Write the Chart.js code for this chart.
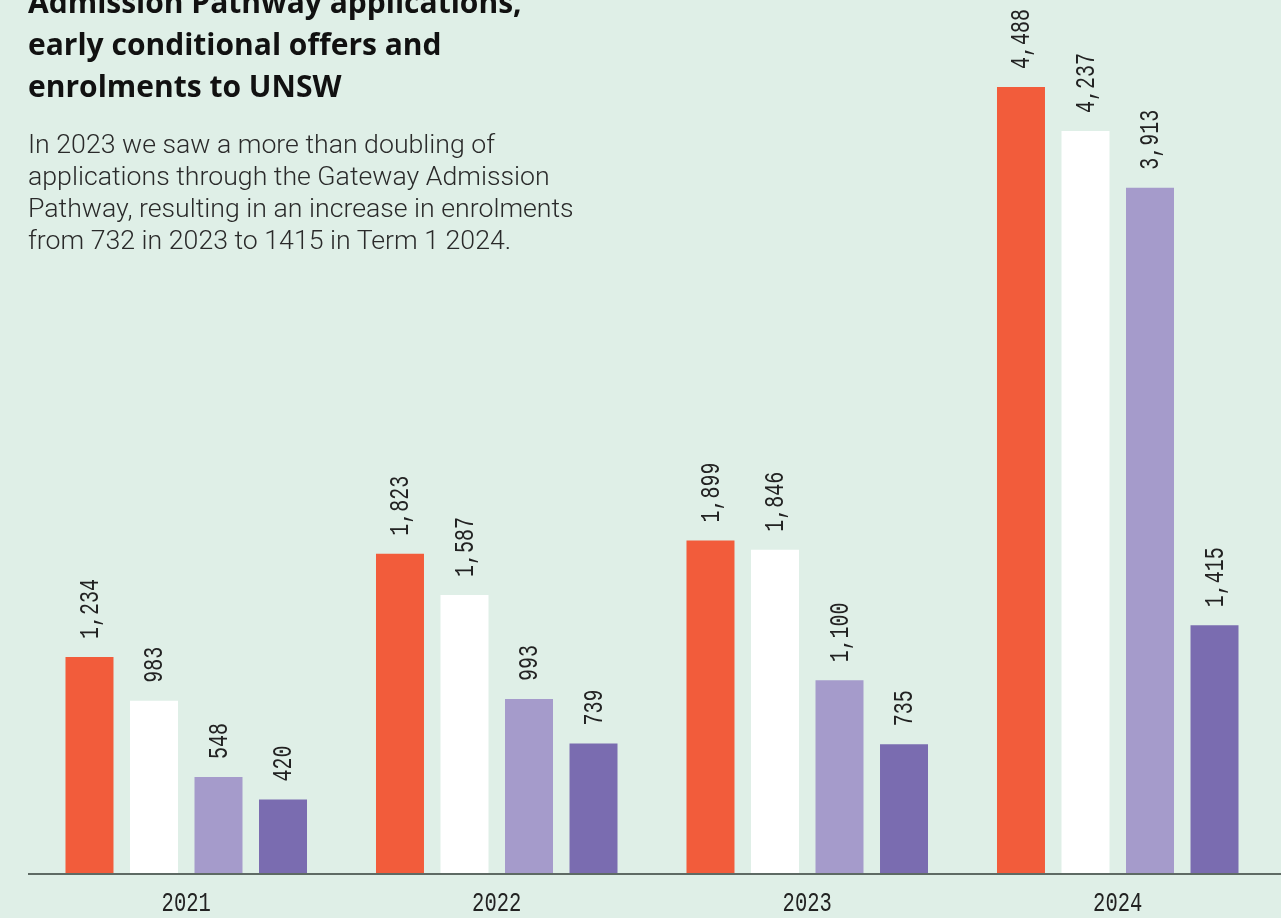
<!DOCTYPE html>
<html>
<head>
<meta charset="utf-8">
<script src="https://cdn.jsdelivr.net/npm/chart.js@4/dist/chart.umd.min.js"></script>
<style>
  html, body { margin: 0; padding: 0; background: #DFEFE7; width: 1281px; height: 918px; overflow: hidden; }
  #wrap { position: relative; width: 1281px; height: 918px; }
  #c { position: absolute; left: 0; top: 0; }
  #title { position: absolute; left: 28px; top: -19px; font-family: 'Open Sans', sans-serif; font-weight: 700; font-size: 30px; line-height: 42px; color: #111; margin: 0; }
  #sub { position: absolute; left: 28px; top: 128px; font-family: Roboto, sans-serif; font-weight: 300; font-size: 26.7px; line-height: 32px; color: #2a2a2a; margin: 0; }
</style>
</head>
<body>
<div id="wrap">
  <canvas id="c" width="1281" height="918"></canvas>
  <h1 id="title">Admission Pathway applications,<br>early conditional offers and<br>enrolments to UNSW</h1>
  <p id="sub">In 2023 we saw a more than doubling of<br>applications through the Gateway Admission<br>Pathway, resulting in an increase in enrolments<br>from 732 in 2023 to 1415 in Term 1 2024.</p>
</div>
<script>
const years = ["2021", "2022", "2023", "2024"];
const applications = [1234, 1823, 1899, 4488];
const earlyOffers = [983, 1587, 1846, 4237];
const acceptedOffers = [548, 993, 1100, 3913];
const enrolments = [420, 739, 735, 1415];

const seriesColors = ["#F25C3B", "#FFFFFF", "#A59BCB", "#7A6CB0"];
const labelFont = "27px 'Liberation Mono', monospace";

const labelPlugin = {
  id: "labels",
  afterDatasetsDraw(chart) {
    const ctx = chart.ctx;
    ctx.save();
    ctx.fillStyle = "#222";
    ctx.font = labelFont;
    chart.data.datasets.forEach((ds, di) => {
      const meta = chart.getDatasetMeta(di);
      meta.data.forEach((bar, i) => {
        const txt = ds.data[i].toLocaleString("en-US");
        ctx.save();
        ctx.translate(bar.x + 1, bar.y - 18);
        ctx.rotate(-Math.PI / 2);
        ctx.scale(0.74, 1);
        ctx.textAlign = "left";
        ctx.textBaseline = "middle";
        ctx.fillText(txt, 0, 0);
        ctx.restore();
      });
    });
    // x tick labels
    const xs = chart.scales.x;
    years.forEach((y, i) => {
      const x = xs.getPixelForValue(i);
      ctx.save();
      ctx.translate(x, 904);
      ctx.scale(0.76, 1);
      ctx.textAlign = "center";
      ctx.textBaseline = "middle";
      ctx.fillText(y, 0, 0);
      ctx.restore();
    });
    // baseline
    const yb = chart.scales.y.getPixelForValue(0);
    ctx.strokeStyle = "#5E6A64";
    ctx.lineWidth = 2;
    ctx.beginPath();
    ctx.moveTo(28, yb + 1);
    ctx.lineTo(1281, yb + 1);
    ctx.stroke();
    ctx.restore();
  }
};

new Chart(document.getElementById("c"), {
  type: "bar",
  data: {
    labels: years,
    datasets: [
      { label: "Applications", data: applications, backgroundColor: seriesColors[0] },
      { label: "Early conditional offers", data: earlyOffers, backgroundColor: seriesColors[1] },
      { label: "Offers accepted", data: acceptedOffers, backgroundColor: seriesColors[2] },
      { label: "Enrolments", data: enrolments, backgroundColor: seriesColors[3] }
    ]
  },
  options: {
    responsive: false,
    animation: false,
    layout: { padding: { left: 31, right: 8, top: 0, bottom: 45 } },
    datasets: { bar: { categoryPercentage: 0.831, barPercentage: 0.744 } },
    plugins: { legend: { display: false }, tooltip: { enabled: false } },
    scales: {
      x: { display: false },
      y: { display: false, min: 0, max: 4985 }
    }
  },
  plugins: [labelPlugin]
});
</script>
</body>
</html>
